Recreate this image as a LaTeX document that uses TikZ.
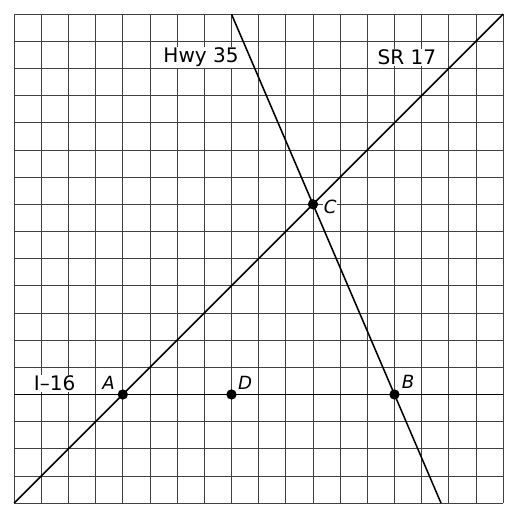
\documentclass[tikz,border=0pt]{standalone}
\usepackage{fontspec}
\setmainfont{DejaVu Sans}
\begin{document}
\begin{tikzpicture}[
  grid/.style={black!75, line width=0.9pt},
  road/.style={black, line width=1.6pt},
  dot/.style={circle, fill=black, inner sep=0pt, minimum size=0.38cm},
  roadname/.style={fill=white, inner sep=1pt, font=\fontsize{21}{25}\selectfont},
  ptlabel/.style={fill=white, inner sep=1pt, font=\fontsize{19}{23}\selectfont\itshape}
]
\useasboundingbox (-0.52,-0.62) rectangle (18.52,18.52);
\draw[grid] (0,0) grid (18,18);

\coordinate (sw) at (0,0);
\coordinate (ne) at (18,18);
\coordinate (west) at (0,4);
\coordinate (east) at (18,4);
\coordinate (top) at (8,18);
\coordinate (bottom) at (15.714,0);

\draw[road] (sw) -- (ne);
\draw[road] (west) -- (east);
\draw[road] (top) -- (bottom);

\node[dot] (A) at (4,4) {};
\node[dot] (D) at (8,4) {};
\node[dot] (B) at (14,4) {};
\node[dot] (C) at (11,11) {};

\node[ptlabel] (lA) at (3.48,4.44) {A};
\node[ptlabel] (lD) at (8.5,4.44) {D};
\node[ptlabel] (lB) at (14.5,4.47) {B};
\node[ptlabel] (lC) at (11.63,10.9) {C};

\node[roadname] (hwy) at (6.88,16.4) {Hwy 35};
\node[roadname] (sr) at (14.46,16.4) {SR 17};
\node[roadname] (inter) at (1.49,4.4) {I–16};
\end{tikzpicture}
\end{document}
